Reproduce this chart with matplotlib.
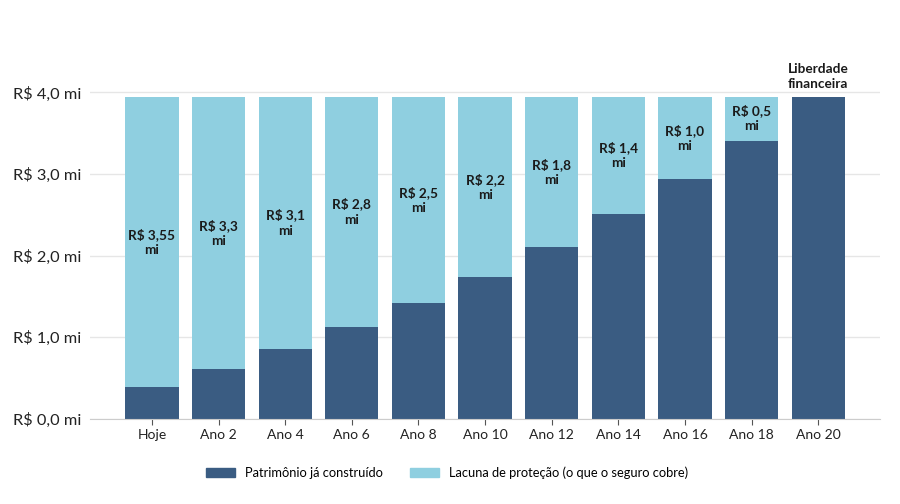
import numpy as np
import matplotlib.pyplot as plt
from matplotlib.patches import Patch

categorias = ['Hoje', 'Ano 2', 'Ano 4', 'Ano 6', 'Ano 8', 'Ano 10',
              'Ano 12', 'Ano 14', 'Ano 16', 'Ano 18', 'Ano 20']
patrimonio = [0.39, 0.61, 0.86, 1.13, 1.42, 1.74, 2.10, 2.51, 2.94, 3.41, 3.95]
meta = 3.95
rotulos_lacuna = ['R$ 3,55\nmi', 'R$ 3,3\nmi', 'R$ 3,1\nmi', 'R$ 2,8\nmi', 'R$ 2,5\nmi',
                  'R$ 2,2\nmi', 'R$ 1,8\nmi', 'R$ 1,4\nmi', 'R$ 1,0\nmi', 'R$ 0,5\nmi', '']
y_ticks = [0, 1, 2, 3, 4]
y_labels = ['R$ 0,0 mi', 'R$ 1,0 mi', 'R$ 2,0 mi', 'R$ 3,0 mi', 'R$ 4,0 mi']

escuro = '#3a5c82'
claro = '#8fcfe0'

plt.rcParams['font.family'] = ['Lato', 'DejaVu Sans']

fig = plt.figure(figsize=(9, 5.04), dpi=100)
ax = fig.add_axes([0.1, 0.169, 0.878, 0.68])

x = np.arange(len(categorias))
patrimonio = np.array(patrimonio)
lacuna = meta - patrimonio

ax.bar(x, patrimonio, width=0.8, color=escuro, zorder=2)
ax.bar(x, lacuna, bottom=patrimonio, width=0.8, color=claro, zorder=2)

for i, txt in enumerate(rotulos_lacuna):
    if txt:
        ax.text(x[i], (patrimonio[i] + meta) / 2, txt, ha='center', va='center',
                fontsize=9.8, fontweight='bold', color='#1a1a1a', linespacing=1.3, zorder=3)

ax.text(x[-1], meta + 0.08, 'Liberdade\nfinanceira', ha='center', va='bottom',
        fontsize=9.8, fontweight='bold', color='#1a1a1a', linespacing=1.25)

ax.set_xlim(-0.93, len(categorias) - 1 + 0.93)
ax.set_ylim(0, 4.2)
ax.set_yticks(y_ticks)
ax.set_yticklabels(y_labels, fontsize=11.8, color='#222222')
ax.set_xticks(x)
ax.set_xticklabels(categorias, fontsize=10, color='#222222')
ax.tick_params(axis='y', length=0, pad=6)
ax.tick_params(axis='x', length=4, color='#555555', pad=3)
ax.grid(axis='y', color='#e6e6e6', linewidth=1, zorder=0)
for s in ['top', 'right', 'left']:
    ax.spines[s].set_visible(False)
ax.spines['bottom'].set_color('#cccccc')

handles = [Patch(color=escuro, label='Patrimônio já construído'),
           Patch(color=claro, label='Lacuna de proteção (o que o seguro cobre)')]
fig.legend(handles=handles, loc='center', bbox_to_anchor=(0.497, 0.062), ncol=2,
           frameon=False, fontsize=9.3, handlelength=2.2, handleheight=0.7,
           columnspacing=2.1, handletextpad=0.8)

fig.savefig('out.png', dpi=100)
